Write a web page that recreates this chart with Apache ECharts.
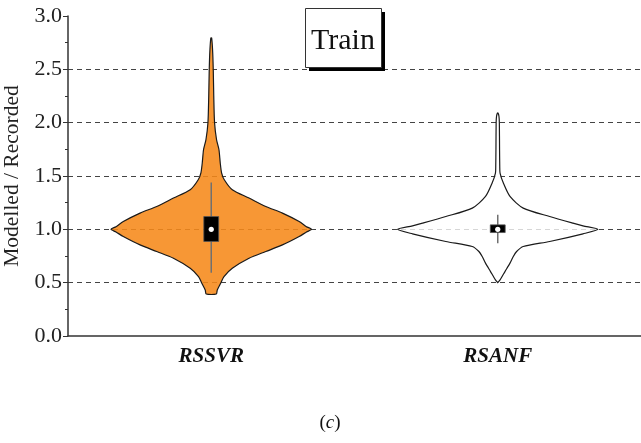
<!DOCTYPE html>
<html>
<head>
<meta charset="utf-8">
<script src="https://cdn.jsdelivr.net/npm/echarts@6/dist/echarts.min.js"></script>
<style>
  html, body { margin: 0; padding: 0; background: #fff; }
  #chart { width: 641px; height: 443px; }
</style>
</head>
<body>
<div id="chart"></div>
<script>
// Model names along the horizontal axis
const categories = ['RSSVR', 'RSANF'];

// Vertical axis range and step
const yMin = 0;
const yMax = 3;
const yStep = 0.5;

// Violin outlines: [Modelled/Recorded ratio, relative half-width (1 = widest)]
const rssvrProfile = [
  [0.394, 0.05], [0.432, 0.06], [0.495, 0.094], [0.557, 0.127], [0.635, 0.21],
  [0.729, 0.377], [0.792, 0.544], [0.854, 0.71], [0.933, 0.877], [0.975, 0.95],
  [1.0, 1.0], [1.025, 0.95], [1.073, 0.877], [1.152, 0.71], [1.214, 0.544],
  [1.293, 0.377], [1.371, 0.21], [1.465, 0.13], [1.53, 0.103], [1.62, 0.09],
  [1.746, 0.077], [1.84, 0.053], [2.0, 0.033], [2.25, 0.025], [2.5, 0.02],
  [2.685, 0.013], [2.795, 0.004]
];
const rsanfProfile = [
  [0.50, 0.0], [0.526, 0.023], [0.604, 0.072], [0.683, 0.122], [0.745, 0.155],
  [0.792, 0.188], [0.839, 0.254], [0.886, 0.518], [0.958, 0.85], [1.0, 1.0],
  [1.033, 0.85], [1.058, 0.75], [1.12, 0.518], [1.199, 0.254], [1.308, 0.122],
  [1.434, 0.056], [1.528, 0.023], [1.59, 0.02], [1.75, 0.018], [2.0, 0.016],
  [2.06, 0.012], [2.091, 0.003]
];

// Box statistics: [lower whisker, Q1, median, Q3, upper whisker]
const rssvrBox = [0.594, 0.886, 1.0, 1.12, 1.44];
const rsanfBox = [0.87, 0.97, 1.0, 1.042, 1.136];

const profiles = [rssvrProfile, rsanfProfile];
const boxes = [rssvrBox, rsanfBox];
const violinFills = ['rgba(246,137,25,0.88)', 'rgba(255,255,255,0.78)'];

const serif = '"Liberation Serif", "Times New Roman", serif';

function renderViolin(params, api) {
  const idx = api.value(0);
  const profile = profiles[idx];
  const box = boxes[idx];
  const band = api.size([1, 0])[0];
  const maxHalf = band * 0.35;
  const boxHalf = band * 0.026;
  const cx = api.coord([idx, 0])[0];

  const rightSide = profile.map(([v, w]) => [cx + w * maxHalf, api.coord([idx, v])[1]]);
  const leftSide = profile.slice().reverse().map(([v, w]) => [cx - w * maxHalf, api.coord([idx, v])[1]]);
  const outline = rightSide.concat(leftSide);

  const yOf = v => api.coord([idx, v])[1];

  return {
    type: 'group',
    children: [
      {
        type: 'polygon',
        shape: { points: outline, smooth: 0.25 },
        style: { fill: violinFills[idx], stroke: '#1a1a1a', lineWidth: 1.2 }
      },
      {
        type: 'line',
        shape: { x1: cx, y1: yOf(box[0]), x2: cx, y2: yOf(box[4]) },
        style: { stroke: '#707070', lineWidth: 1.5 }
      },
      {
        type: 'rect',
        shape: { x: cx - boxHalf, y: yOf(box[3]), width: boxHalf * 2, height: yOf(box[1]) - yOf(box[3]) },
        style: { fill: '#000', stroke: '#555', lineWidth: 0.8 }
      },
      {
        type: 'circle',
        shape: { cx: cx, cy: yOf(box[2]), r: 2.6 },
        style: { fill: '#fff' }
      }
    ]
  };
}

const chart = echarts.init(document.getElementById('chart'), null, { renderer: 'canvas' });

chart.setOption({
  animation: false,
  backgroundColor: '#fff',
  grid: { left: 68, right: 0, top: 16, bottom: 107, containLabel: false, outerBoundsMode: 'none' },
  xAxis: {
    type: 'category',
    data: categories,
    boundaryGap: true,
    axisLine: { lineStyle: { color: '#333', width: 1.5 } },
    axisTick: { alignWithLabel: true, length: 3, lineStyle: { color: '#333' } },
    axisLabel: {
      margin: 10,
      fontFamily: serif,
      fontSize: 21,
      fontWeight: 'bold',
      fontStyle: 'italic',
      color: '#111'
    },
    splitLine: { show: false }
  },
  yAxis: {
    type: 'value',
    min: yMin,
    max: yMax,
    interval: yStep,
    name: 'Modelled / Recorded',
    nameLocation: 'middle',
    nameRotate: 90,
    nameGap: 44,
    nameTextStyle: { fontFamily: serif, fontSize: 21.5, color: '#222' },
    axisLine: { show: true, lineStyle: { color: '#333', width: 1.5 } },
    axisTick: { show: true, length: 5, lineStyle: { color: '#333' } },
    minorTick: { show: true, splitNumber: 2, length: 3, lineStyle: { color: '#333' } },
    axisLabel: {
      margin: 6,
      fontFamily: serif,
      fontSize: 22,
      color: '#222',
      formatter: v => v.toFixed(1)
    },
    splitLine: {
      show: true,
      showMinLine: false,
      showMaxLine: false,
      lineStyle: { color: '#444', width: 1, type: [5, 4] }
    }
  },
  series: [
    {
      type: 'custom',
      renderItem: renderViolin,
      data: categories.map((c, i) => [i]),
      encode: { x: 0 },
      z: 3
    }
  ],
  graphic: [
    {
      type: 'rect',
      left: 309, top: 12,
      shape: { width: 76, height: 59 },
      style: { fill: '#000' },
      z: 10
    },
    {
      type: 'rect',
      left: 305, top: 8,
      shape: { width: 76, height: 59 },
      style: { fill: '#fff', stroke: '#333', lineWidth: 1 },
      z: 11
    },
    {
      type: 'text',
      x: 343, y: 41,
      style: {
        text: 'Train',
        fontFamily: serif,
        fontSize: 30,
        fill: '#111',
        align: 'center',
        verticalAlign: 'middle'
      },
      z: 12
    },
    {
      type: 'text',
      x: 330, y: 423,
      style: {
        text: '({i|c})',
        fontFamily: serif,
        fontSize: 19,
        fill: '#111',
        align: 'center',
        verticalAlign: 'middle',
        rich: { i: { fontFamily: serif, fontSize: 19, fontStyle: 'italic', fill: '#111' } }
      },
      z: 12
    }
  ]
});
</script>
</body>
</html>
